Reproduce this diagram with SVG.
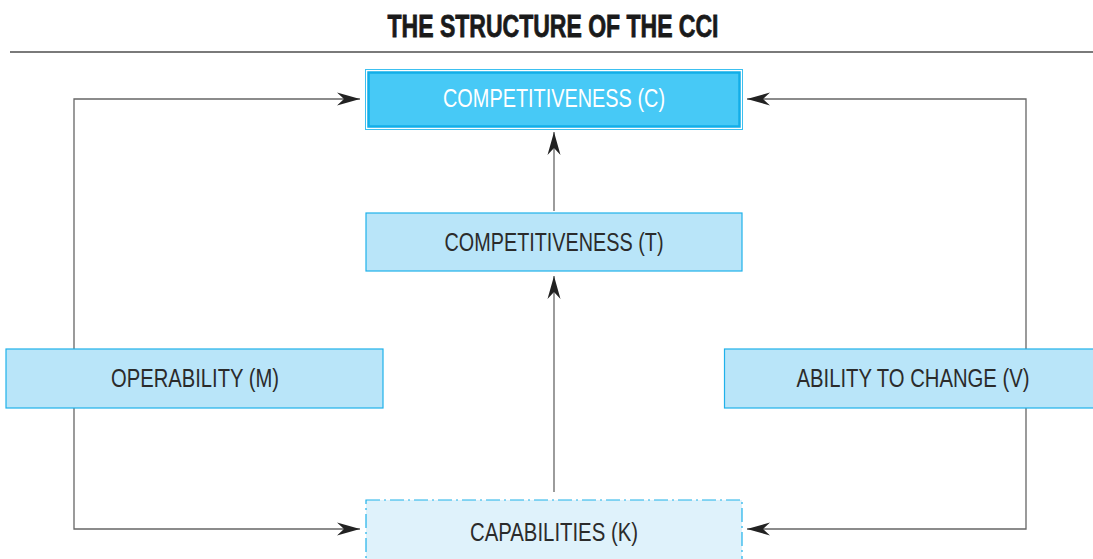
<svg xmlns="http://www.w3.org/2000/svg" width="1093" height="559" viewBox="0 0 1093 559">
  <style>
    .lbl { font-family: "Liberation Sans", Arial, sans-serif; font-size: 25px; fill: #2b2b2b; text-anchor: middle; }
    .box { fill: #b9e5f9; stroke: #1fb1ea; stroke-width: 1.2; }
    .link { fill: none; stroke: #666; stroke-width: 1.3; }
  </style>
  <defs>
    <marker id="arrow" markerUnits="userSpaceOnUse" markerWidth="26" markerHeight="16" viewBox="-24 -8 26 16" refX="0" refY="0" orient="auto">
      <path d="M0,0 L-23,-6.5 L-16,0 L-23,6.5 Z" fill="#222"/>
    </marker>
  </defs>

  <rect width="1093" height="559" fill="#ffffff"/>

  <!-- heading -->
  <text x="553" y="37" font-family="'Liberation Sans', Arial, sans-serif" font-weight="bold" font-size="31" fill="#1a1a1a" stroke="#1a1a1a" stroke-width="0.8" text-anchor="middle" textLength="331" lengthAdjust="spacingAndGlyphs">THE STRUCTURE OF THE CCI</text>
  <line x1="10" y1="52" x2="1093" y2="52" stroke="#7a7a7a" stroke-width="2"/>

  <!-- connectors -->
  <g id="connectors">
    <polyline class="link" points="74,349 74,99 360,99" marker-end="url(#arrow)"/>
    <polyline class="link" points="74,408 74,529 360,529" marker-end="url(#arrow)"/>
    <polyline class="link" points="1026,349 1026,99 747,99" marker-end="url(#arrow)"/>
    <polyline class="link" points="1026,408 1026,529 747,529" marker-end="url(#arrow)"/>
    <line class="link" x1="554" y1="492" x2="554" y2="276" marker-end="url(#arrow)"/>
    <line class="link" x1="554" y1="211" x2="554" y2="132" marker-end="url(#arrow)"/>
  </g>

  <!-- nodes -->
  <g id="node-c">
    <rect x="365.5" y="69.5" width="377" height="60" fill="#ffffff" stroke="#3cc0f0" stroke-width="1"/>
    <rect x="368.5" y="72.5" width="371" height="54" fill="#47c9f6" stroke="#12aee8" stroke-width="2.5"/>
    <text class="lbl" x="554" y="107" style="fill:#ffffff" textLength="222" lengthAdjust="spacingAndGlyphs">COMPETITIVENESS (C)</text>
  </g>

  <g id="node-t">
    <rect class="box" x="366" y="213" width="376" height="58"/>
    <text class="lbl" x="554" y="251" textLength="219" lengthAdjust="spacingAndGlyphs">COMPETITIVENESS (T)</text>
  </g>

  <g id="node-m">
    <rect class="box" x="6" y="349" width="377" height="59"/>
    <text class="lbl" x="195" y="387" textLength="168" lengthAdjust="spacingAndGlyphs">OPERABILITY (M)</text>
  </g>

  <g id="node-v">
    <rect class="box" x="724.5" y="349" width="372" height="59"/>
    <text class="lbl" x="913" y="387" textLength="233" lengthAdjust="spacingAndGlyphs">ABILITY TO CHANGE (V)</text>
  </g>

  <g id="node-k">
    <rect x="366" y="500" width="376" height="70" fill="#dff2fb" stroke="#1fb1ea" stroke-width="1.2" stroke-dasharray="14,4,2,4"/>
    <text class="lbl" x="554" y="541" textLength="168" lengthAdjust="spacingAndGlyphs">CAPABILITIES (K)</text>
  </g>
</svg>
